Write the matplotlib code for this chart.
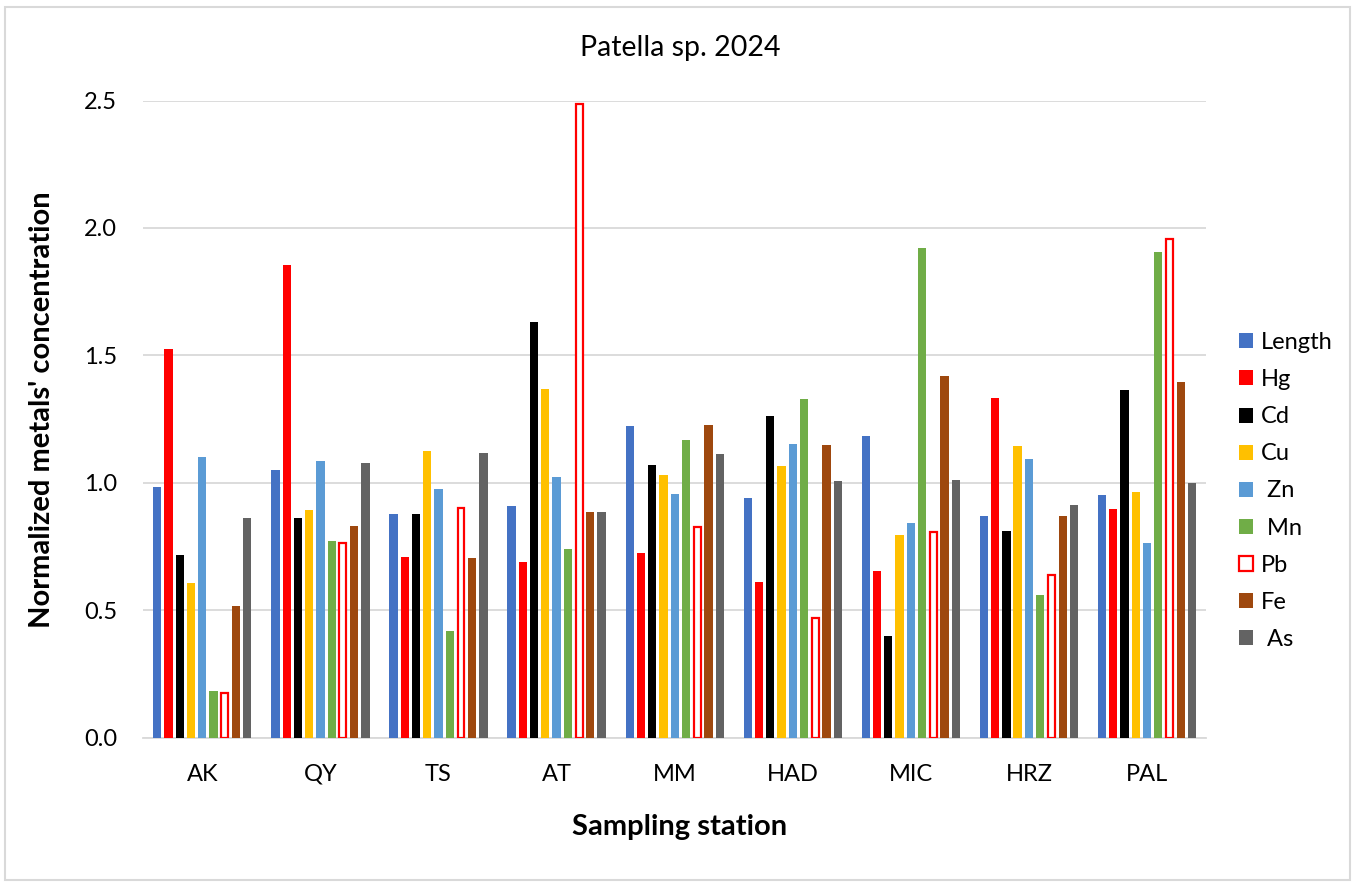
import matplotlib
matplotlib.use("Agg")
import matplotlib.pyplot as plt
import numpy as np
from matplotlib.patches import Rectangle

plt.rcParams['font.family'] = ['Lato', 'DejaVu Sans']

stations = ["AK", "QY", "TS", "AT", "MM", "HAD", "MIC", "HRZ", "PAL"]
series_names = ["Length", "Hg", "Cd", "Cu", " Zn", " Mn", "Pb", "Fe", " As"]

length = [0.985, 1.048, 0.879, 0.907, 1.222, 0.940, 1.184, 0.869, 0.953]
hg     = [1.526, 1.853, 0.708, 0.689, 0.723, 0.611, 0.655, 1.332, 0.896]
cd     = [0.717, 0.860, 0.879, 1.632, 1.069, 1.263, 0.397, 0.811, 1.364]
cu     = [0.607, 0.892, 1.124, 1.369, 1.029, 1.066, 0.795, 1.143, 0.962]
zn     = [1.099, 1.086, 0.976, 1.024, 0.957, 1.150, 0.841, 1.093, 0.765]
mn     = [0.184, 0.771, 0.418, 0.740, 1.166, 1.327, 1.920, 0.560, 1.907]
pb     = [0.173, 0.762, 0.899, 2.487, 0.825, 0.469, 0.805, 0.638, 1.958]
fe     = [0.518, 0.829, 0.703, 0.885, 1.227, 1.146, 1.419, 0.869, 1.394]
as_    = [0.863, 1.078, 1.116, 0.885, 1.113, 1.007, 1.012, 0.913, 1.000]

series_values = [length, hg, cd, cu, zn, mn, pb, fe, as_]
face_colors = ["#4472C4", "#FF0000", "#000000", "#FFC000", "#5B9BD5",
               "#70AD47", "#FFFFFF", "#9E480E", "#636363"]
edge_colors = [None, None, None, None, None, None, "#FF0000", None, None]

fig = plt.figure(figsize=(13.52, 8.86), dpi=100)
ax = fig.add_axes([143.3/1352, 1 - 737.5/886, (1206 - 143.3)/1352, (737.5 - 100.5)/886])

x = np.arange(len(stations))
pitch = 0.0953
bw = 0.070
for i, (name, vals) in enumerate(zip(series_names, series_values)):
    off = (i - 4) * pitch
    if edge_colors[i]:
        ax.bar(x + off, vals, width=bw - 0.012, facecolor=face_colors[i],
               edgecolor=edge_colors[i], linewidth=1.6, label=name, zorder=3)
    else:
        ax.bar(x + off, vals, width=bw, color=face_colors[i], label=name, zorder=3)

ax.set_xlim(-0.5, len(stations) - 0.5)
ax.set_ylim(0, 2.5)
ax.set_yticks(np.arange(0, 2.51, 0.5))
ax.set_yticklabels([f"{v:.1f}" for v in np.arange(0, 2.51, 0.5)], fontsize=17, color="#000000")
ax.set_xticks(x)
ax.set_xticklabels(stations, fontsize=17)
ax.tick_params(axis='both', length=0)
ax.tick_params(axis='y', pad=19)
ax.tick_params(axis='x', pad=19)
ax.yaxis.grid(True, color="#D9D9D9", linewidth=1.3, zorder=0)
ax.set_axisbelow(True)
for s in ["top", "right", "left"]:
    ax.spines[s].set_visible(False)
ax.spines["bottom"].set_color("#D9D9D9")
ax.spines["bottom"].set_linewidth(1.3)

fig.text(42/1352, 1 - 410/886, "Normalized metals' concentration", rotation=90,
         ha='center', va='center', fontsize=21, fontweight='bold')
fig.text(680/1352, 1 - 835/886, "Sampling station", ha='center', va='baseline',
         fontsize=21, fontweight='bold')
fig.text(680/1352, 1 - 56/886, "Patella sp. 2024", ha='center', va='baseline', fontsize=20.5)

leg = ax.legend(loc='center left', bbox_to_anchor=(1.022, 0.387), frameon=False,
                fontsize=17, handlelength=0.6, handleheight=0.6, handletextpad=0.35,
                labelspacing=0.68, borderaxespad=0)

fig.patches.append(Rectangle((5/1352, 1 - 880/886), (1350 - 5)/1352, (880 - 7)/886,
                             transform=fig.transFigure, fill=False,
                             edgecolor="#D9D9D9", linewidth=1.5))

fig.savefig("out.png", dpi=100)
